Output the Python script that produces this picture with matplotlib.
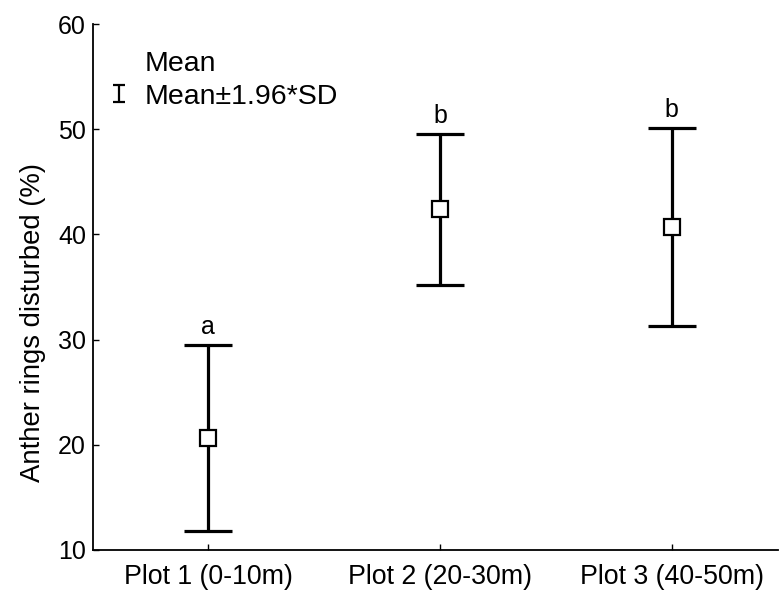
import matplotlib
matplotlib.use("Agg")
import matplotlib.pyplot as plt
from matplotlib.lines import Line2D
from matplotlib.container import ErrorbarContainer
from matplotlib.collections import LineCollection
from matplotlib.legend_handler import HandlerErrorbar
from matplotlib import font_manager

plt.rcParams['font.family'] = ['Liberation Sans', 'DejaVu Sans']

categories = ["Plot 1 (0-10m)", "Plot 2 (20-30m)", "Plot 3 (40-50m)"]
means = [20.67, 42.39, 40.73]
half_ci = [8.82, 7.18, 9.43]          # 1.96 * SD
letters = ["a", "b", "b"]
y_ticks = [10, 20, 30, 40, 50, 60]

fig = plt.figure(figsize=(7.79, 5.90), dpi=100)
ax = fig.add_axes([0.1194, 0.0678, 0.879, 0.8915])

x = list(range(1, len(categories) + 1))
ax.errorbar(x, means, yerr=half_ci, fmt='none', ecolor='black',
            elinewidth=2.3, capsize=17.5, capthick=2.3, zorder=2)
ax.plot(x, means, linestyle='none', marker='s', markersize=11.5,
        markerfacecolor='white', markeredgecolor='black',
        markeredgewidth=1.6, zorder=3)

for xi, m, h, lab in zip(x, means, half_ci, letters):
    ax.annotate(lab, (xi, m + h), xytext=(0, 4), textcoords='offset points',
                ha='center', va='bottom', fontsize=18)

ax.set_xlim(0.504, 3.457)
ax.set_ylim(10, 60)
ax.set_xticks(x)
ax.set_xticklabels(categories, fontsize=19.3)
ax.set_yticks(y_ticks)
ax.tick_params(axis='y', labelsize=18, direction='in', length=4, width=1, pad=5)
ax.tick_params(axis='x', direction='in', length=4, width=1, pad=10)

# narrow face for the tall axis title when available
names = {f.name for f in font_manager.fontManager.ttflist}
if 'Liberation Sans Narrow' in names:
    ax.set_ylabel("Anther rings disturbed (%)", fontsize=23.5,
                  family='Liberation Sans Narrow')
else:
    ax.set_ylabel("Anther rings disturbed (%)", fontsize=19.8)
ax.yaxis.set_label_coords(-0.068, 0.433)

for side in ('top', 'right'):
    ax.spines[side].set_visible(False)
for side in ('left', 'bottom'):
    ax.spines[side].set_linewidth(1.3)

# legend: plain "Mean" entry and an error-bar glyph
mean_handle = Line2D([], [], linestyle='none', marker='None')
bar_line = Line2D([], [], linestyle='none', marker='None')
cap_lo = Line2D([], [], linestyle='none', marker='_', color='black',
                markersize=8, markeredgewidth=1.6)
cap_hi = Line2D([], [], linestyle='none', marker='_', color='black',
                markersize=8, markeredgewidth=1.6)
bar_coll = LineCollection([], colors='black', linewidths=1.6)
err_handle = ErrorbarContainer((bar_line, (cap_lo, cap_hi), (bar_coll,)),
                               has_xerr=False, has_yerr=True)
leg = ax.legend([mean_handle, err_handle], ["Mean", "Mean\u00b11.96*SD"],
                loc='upper left', frameon=False, fontsize=20.5,
                handlelength=0.6, handletextpad=0.62, borderaxespad=0.0,
                borderpad=0.0, labelspacing=0.22,
                bbox_to_anchor=(0.0253, 0.948),
                handler_map={ErrorbarContainer: HandlerErrorbar(yerr_size=0.29)})

fig.savefig("out.png", dpi=100)
